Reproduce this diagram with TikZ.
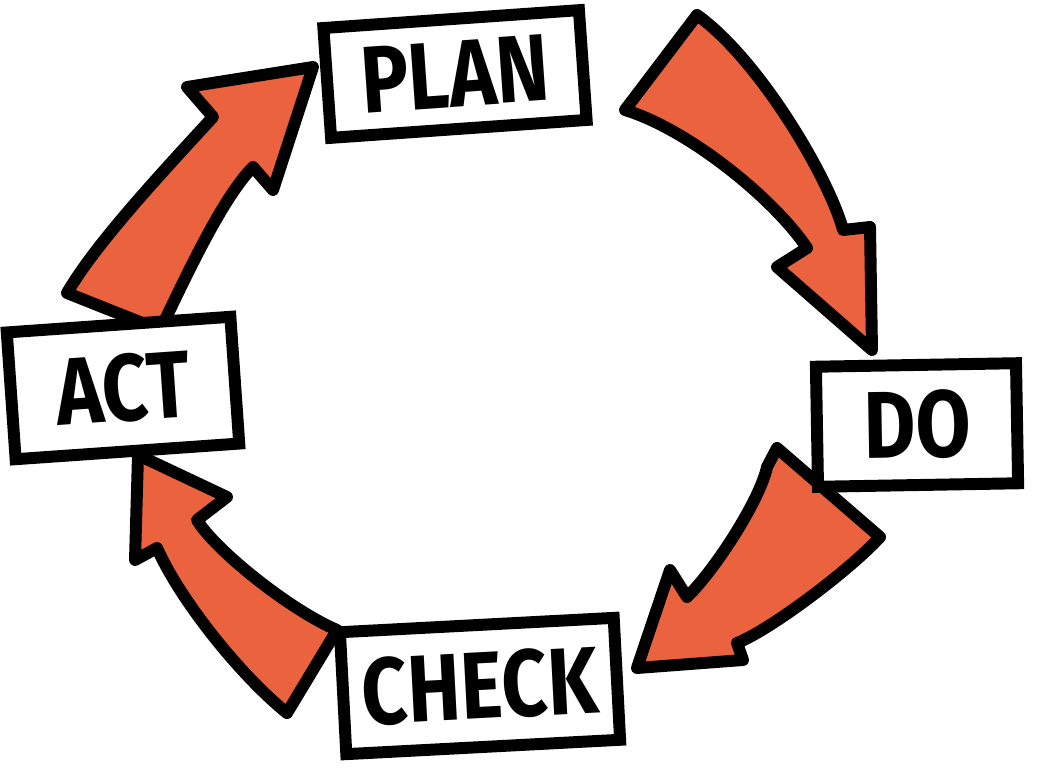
\documentclass[tikz,border=0pt]{standalone}
\usepackage{fontspec}
\usepackage{xcolor}
\usepackage{tikz}
\usetikzlibrary{positioning}
\newfontfamily\hand[FakeStretch=0.84]{Fira Sans}
\definecolor{crayon}{RGB}{234,98,62}

\begin{document}
\begin{tikzpicture}[
  x=0.01cm, y=-0.01cm,
  stage/.style={draw, line width=3.4pt, fill=white, inner sep=0pt,
    font=\hand\bfseries\fontsize{27}{30}\selectfont},
  flow/.style={draw, fill=crayon, line width=3.4pt, line join=round},
]
\useasboundingbox (0,0) rectangle (1037,767);
% plan -> do
\draw[flow] (697,15) -- (625,110) .. controls (690,130) and (775,200) .. (807,248)
  -- (777,267) -- (872,350) -- (870,227) -- (843,230)
  .. controls (830,180) and (760,60) .. (697,15) -- cycle;
% do -> check
\draw[flow] (767,467) -- (777,448) -- (880,537) .. controls (850,570) and (770,630) .. (737,643)
  -- (743,660) -- (637,668) -- (670,570) -- (687,597)
  .. controls (715,570) and (760,500) .. (767,467) -- cycle;
% check -> act
\draw[flow] (138,455) -- (227,497) -- (197,520) .. controls (215,550) and (290,610) .. (337,630)
  -- (287,713) .. controls (240,675) and (180,600) .. (157,548)
  -- (135,560) -- cycle;
% act -> plan
\draw[flow] (67,293) -- (160,330) .. controls (180,290) and (220,200) .. (253,167)
  -- (273,190) -- (313,67) -- (187,87) -- (213,117)
  .. controls (155,180) and (95,245) .. (67,293) -- cycle;
% the four stages
\node[stage, minimum width=2.56cm, minimum height=1.10cm, rotate=4] (plan) at (455,74) {PLAN};
\node[stage, minimum width=2.00cm, minimum height=1.20cm, rotate=1] (do) at (917,425) {DO};
\node[stage, minimum width=2.74cm, minimum height=1.22cm, rotate=3] (check) at (480,686) {CHECK};
\node[stage, minimum width=2.24cm, minimum height=1.27cm, rotate=4] (act) at (123,388) {ACT};
\end{tikzpicture}
\end{document}
